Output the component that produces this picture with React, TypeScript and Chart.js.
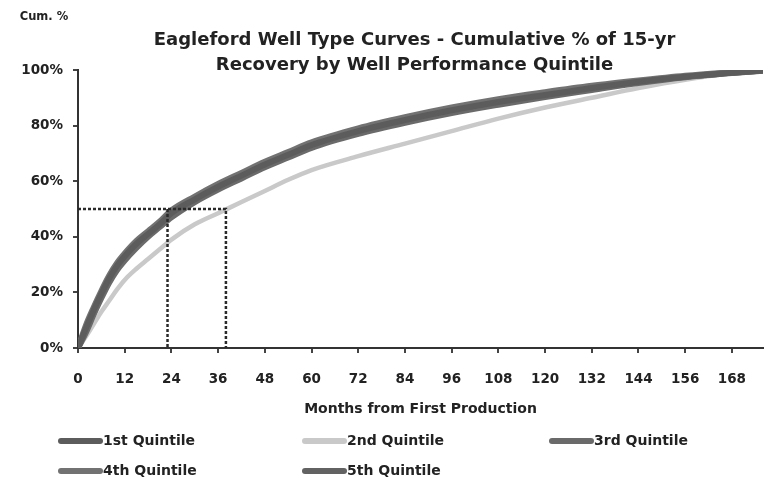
import React, { useEffect, useRef } from "react";
import { Chart, registerables } from "chart.js";

Chart.register(...registerables);

// ---- data ----
const months = [0, 2, 4, 6, 8, 10, 12, 15, 18, 21, 24, 30, 36, 42, 48, 54, 60, 72, 84, 96, 108, 120, 132, 144, 156, 168, 176];
const q1 = [0, 7, 13.5, 19.5, 25, 29.5, 33, 37.5, 41, 44.5, 48.5, 53.5, 58, 62, 66, 69.5, 73, 78, 82, 85.5, 88.5, 91, 93.5, 95.8, 97.6, 99, 99.8];
const q2 = [0, 4, 8.5, 13, 17, 21, 24.5, 28.5, 32, 35.5, 39, 44.5, 48.5, 52.5, 56.5, 60.5, 64, 69, 73.5, 78, 82.5, 86.5, 90, 93.5, 96.5, 98.8, 99.8];
const q3 = [0, 5.5, 12, 18, 23.5, 28, 31.5, 36, 40, 43.5, 47, 52.5, 57, 61, 65, 68.5, 72, 77, 81, 84.5, 87.5, 90.3, 92.8, 95.3, 97.4, 98.9, 99.7];
const q4 = [0, 8, 14.5, 20.5, 26, 30.5, 34, 38.5, 42, 45.5, 49.5, 54.5, 59, 63, 67, 70.5, 74, 79, 83, 86.5, 89.5, 92, 94.3, 96.2, 97.9, 99.2, 99.9];
const q5 = [0, 6.5, 13, 19, 24.5, 29, 32.5, 37, 40.5, 44, 48, 53.5, 57.5, 61.5, 65.5, 69.5, 73, 78, 82, 85.5, 88.5, 91, 93.5, 95.8, 97.6, 99, 99.8];

const seriesNames = ["1st Quintile", "2nd Quintile", "3rd Quintile", "4th Quintile", "5th Quintile"];

// half-recovery guide box (months, %)
const guideOuterX = [0, 38, 38];
const guideOuterY = [50, 50, 0];
const guideInnerX = [23, 23];
const guideInnerY = [50, 0];

const xTickValues = [0, 12, 24, 36, 48, 60, 72, 84, 96, 108, 120, 132, 144, 156, 168];
const yTickValues = [0, 20, 40, 60, 80, 100];

const titleLines = ["Eagleford Well Type Curves - Cumulative % of 15-yr", "Recovery by Well Performance Quintile"];
const yAxisLabel = "Cum. %";
const xAxisLabel = "Months from First Production";

const FONT = '"DejaVu Sans", "Open Sans", sans-serif';
const TEXT = "#222222";

const seriesColors = ["#5c5c5c", "#c9c9c9", "#6a6a6a", "#727272", "#626262"];
const seriesWidths = [6, 4.5, 6, 6, 6];
const seriesOrder = [1, 6, 2, 3, 4];

const toPts = (xs: number[], ys: number[]) => xs.map((x, i) => ({ x, y: ys[i] }));

const decorPlugin = {
  id: "decor",
  afterDraw(chart: any) {
    const ctx = chart.ctx as CanvasRenderingContext2D;
    const area = chart.chartArea;
    ctx.save();
    ctx.fillStyle = TEXT;
    ctx.textAlign = "center";
    ctx.textBaseline = "middle";
    ctx.font = `bold 18px ${FONT}`;
    const cx = (area.left + area.right) / 2 - 6;
    ctx.fillText(titleLines[0], cx, 40);
    ctx.fillText(titleLines[1], cx, 65);
    ctx.font = `bold 11.5px ${FONT}`;
    ctx.fillText(yAxisLabel, 44, 17);

    // legend grid
    const cols = [58, 302, 549];
    const rows = [441, 471];
    ctx.font = `bold 14px ${FONT}`;
    ctx.textAlign = "left";
    seriesNames.forEach((name, k) => {
      const x = cols[k % 3];
      const y = rows[Math.floor(k / 3)];
      ctx.strokeStyle = seriesColors[k];
      ctx.lineWidth = 6;
      ctx.lineCap = "round";
      ctx.beginPath();
      ctx.moveTo(x + 3, y);
      ctx.lineTo(x + 42, y);
      ctx.stroke();
      ctx.fillStyle = TEXT;
      ctx.fillText(name, x + 45, y);
    });
    ctx.restore();
  },
};

export default function App() {
  const ref = useRef<HTMLCanvasElement>(null);

  useEffect(() => {
    if (!ref.current) return;
    const quintiles = [q1, q2, q3, q4, q5];
    const datasets: any[] = quintiles.map((vals, i) => ({
      label: seriesNames[i],
      data: toPts(months, vals),
      borderColor: seriesColors[i],
      backgroundColor: seriesColors[i],
      borderWidth: seriesWidths[i],
      pointRadius: 0,
      cubicInterpolationMode: "monotone",
      borderCapStyle: "round",
      order: seriesOrder[i],
      fill: false,
    }));
    datasets.push(
      {
        label: "guide-outer",
        data: toPts(guideOuterX, guideOuterY),
        borderColor: "#2a2a2a",
        borderWidth: 2.5,
        borderDash: [3, 2],
        pointRadius: 0,
        tension: 0,
        order: 0,
        fill: false,
      },
      {
        label: "guide-inner",
        data: toPts(guideInnerX, guideInnerY),
        borderColor: "#2a2a2a",
        borderWidth: 2.5,
        borderDash: [3, 2],
        pointRadius: 0,
        tension: 0,
        order: 0,
        fill: false,
      }
    );

    const chart = new Chart(ref.current, {
      type: "line",
      data: { datasets },
      plugins: [decorPlugin],
      options: {
        animation: false,
        responsive: true,
        maintainAspectRatio: false,
        layout: { padding: { top: 70, bottom: 63, left: 0, right: 0 } },
        plugins: {
          legend: { display: false },
          title: { display: false },
          tooltip: { enabled: false },
        },
        scales: {
          x: {
            type: "linear",
            min: 0,
            max: 176,
            afterBuildTicks: (axis: any) => {
              axis.ticks = xTickValues.map((v) => ({ value: v }));
            },
            afterFit: (axis: any) => {
              axis.height = 74;
            },
            ticks: {
              color: TEXT,
              font: { family: FONT, size: 13.5, weight: "bold" },
              padding: 18,
              maxRotation: 0,
              autoSkip: false,
            },
            grid: { drawOnChartArea: false, drawTicks: true, tickLength: 5, color: "#444", lineWidth: 2 },
            border: { display: true, color: "#333", width: 2 },
            title: {
              display: true,
              text: xAxisLabel,
              color: TEXT,
              font: { family: FONT, size: 14, weight: "bold" },
              padding: { top: 0, bottom: 4 },
            },
          },
          y: {
            min: 0,
            max: 100,
            afterBuildTicks: (axis: any) => {
              axis.ticks = yTickValues.map((v) => ({ value: v }));
            },
            afterFit: (axis: any) => {
              axis.width = 78;
            },
            ticks: {
              color: TEXT,
              font: { family: FONT, size: 13.5, weight: "bold" },
              padding: 10,
              callback: (v: any) => `${v}%`,
            },
            grid: { drawOnChartArea: false, drawTicks: true, tickLength: 5, color: "#444", lineWidth: 2 },
            border: { display: true, color: "#333", width: 2 },
          },
        },
      },
    });
    return () => chart.destroy();
  }, []);

  return (
    <div style={{ position: "absolute", left: 0, top: 0, width: 764, height: 485 }}>
      <canvas ref={ref} />
    </div>
  );
}
